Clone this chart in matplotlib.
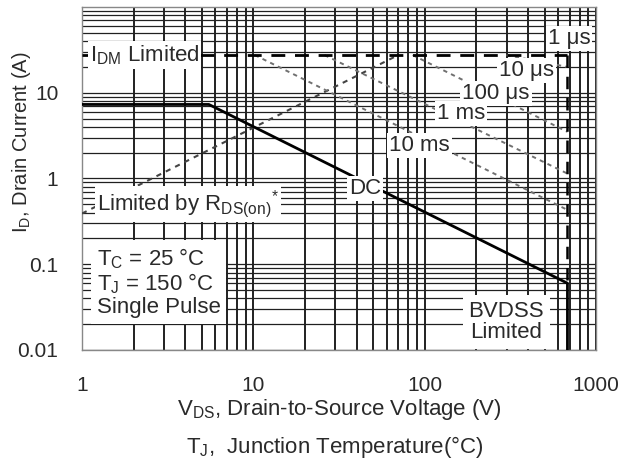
import matplotlib
matplotlib.use('Agg')
import matplotlib.pyplot as plt
from matplotlib.ticker import FixedLocator, LogLocator, NullFormatter

plt.rcParams['font.family'] = ['Liberation Sans', 'DejaVu Sans']
plt.rcParams['mathtext.fontset'] = 'custom'
plt.rcParams['mathtext.rm'] = 'Liberation Sans'
plt.rcParams['mathtext.it'] = 'Liberation Sans:italic'

# SOA boundaries (V, A)
v_dc = [1, 5.5, 680, 680]
i_dc = [7.3, 7.3, 0.06, 0.01]
v_idm = [1, 680]
i_idm = [27.5, 27.5]
v_bv = [680, 680]
i_bv = [27.5, 0.06]
v_rds = [1, 70]
i_rds = [0.39, 27.5]
# single pulse lines
v_10us = [300, 680]
i_10us = [27.5, 20]
v_100us = [85, 680]
i_100us = [27.5, 3.5]
v_1ms = [26, 680]
i_1ms = [27.5, 1.14]
v_10ms = [10.2, 680]
i_10ms = [27.5, 0.43]

x_ticks = [1, 10, 100, 1000]
x_labels = ['1', '10', '100', '1000']
y_ticks = [0.01, 0.1, 1, 10]
y_labels = ['0.01', '0.1', '1', '10']

txt = '#2a2a2a'
box = dict(facecolor='white', edgecolor='none', pad=1.5)

fig = plt.figure(figsize=(6.21, 4.66), dpi=100)
ax = fig.add_axes([0.132, 0.249, 0.828, 0.736])
ax.set_xscale('log')
ax.set_yscale('log')
ax.set_xlim(1, 1000)
ax.set_ylim(0.01, 100)

ax.xaxis.set_major_locator(FixedLocator(x_ticks))
ax.yaxis.set_major_locator(FixedLocator(y_ticks))
ax.set_xticklabels(x_labels)
ax.set_yticklabels(y_labels)
ax.xaxis.set_minor_locator(LogLocator(base=10, subs=range(2, 10)))
ax.yaxis.set_minor_locator(LogLocator(base=10, subs=range(2, 10)))
ax.xaxis.set_minor_formatter(NullFormatter())
ax.yaxis.set_minor_formatter(NullFormatter())
ax.tick_params(which='both', length=0)
ax.tick_params(axis='x', pad=19, labelsize=15, labelcolor=txt)
ax.tick_params(axis='y', pad=17, labelsize=15, labelcolor=txt)

ax.xaxis.grid(True, which='both', color='#202020', linewidth=1.4)
ax.yaxis.grid(True, which='both', color='#202020', linewidth=0.9)
ax.set_axisbelow(True)
for s in ax.spines.values():
    s.set_color('#888888')
    s.set_linewidth(1.0)

ax.plot(v_dc, i_dc, color='black', linewidth=2.0, zorder=4)
ax.plot(v_idm, i_idm, color='black', linewidth=2.0, dashes=(5, 3.5), zorder=4)
ax.plot(v_bv, i_bv, color='black', linewidth=1.8, dashes=(5, 3.5), zorder=4)
ax.plot(v_rds, i_rds, color='#444444', linewidth=1.5, dashes=(2.5, 2.5), zorder=3)
for v, i in [(v_10us, i_10us), (v_100us, i_100us), (v_1ms, i_1ms), (v_10ms, i_10ms)]:
    ax.plot(v, i, color='#707070', linewidth=1.4, dashes=(2.2, 2.2), zorder=3)

fs = 16
ax.text(1.11, 27.5, r'I$_\mathrm{DM}$ Limited', fontsize=fs, color=txt, va='center', ha='left', bbox=box, zorder=6)
ax.text(695, 43, '1 μs', fontsize=fs, color=txt, va='center', ha='center', bbox=box, zorder=6)
ax.text(391, 18.3, '10 μs', fontsize=fs, color=txt, va='center', ha='center', bbox=box, zorder=6)
ax.text(261, 9.9, '100 μs', fontsize=fs, color=txt, va='center', ha='center', bbox=box, zorder=6)
ax.text(163, 5.75, '1 ms', fontsize=fs, color=txt, va='center', ha='center', bbox=box, zorder=6)
ax.text(93, 2.43, '10 ms', fontsize=fs, color=txt, va='center', ha='center', bbox=box, zorder=6)
ax.text(45, 0.76, 'DC', fontsize=fs, color=txt, va='center', ha='center', bbox=box, zorder=6)
ax.text(1.22, 0.51, r'Limited by R$_{\mathrm{DS(on)}}{}^{*}$', fontsize=fs, color=txt,
        va='center', ha='left', bbox=box, zorder=6)
ax.text(1.22, 0.062, 'T$_\\mathrm{C}$ = 25 °C\nT$_\\mathrm{J}$ = 150 °C\nSingle Pulse', fontsize=fs,
        color=txt, va='center', ha='left', linespacing=1.05, bbox=dict(facecolor='white', edgecolor='none', pad=4), zorder=6)
ax.text(299, 0.0212, 'BVDSS\nLimited', fontsize=fs, color=txt, va='center', ha='center',
        linespacing=1.0, bbox=dict(facecolor='white', edgecolor='none', pad=4), zorder=6)

fig.text(22 / 621, 1 - 142 / 466, r'I$_\mathrm{D}$, Drain Current (A)', rotation=90, fontsize=14.5,
         color=txt, ha='center', va='center')
fig.text(339 / 621, 1 - 410 / 466, r'V$_\mathrm{DS}$, Drain-to-Source Voltage (V)', fontsize=16,
         color=txt, ha='center', va='center')
fig.text(335 / 621, 1 - 447 / 466, r'T$_\mathrm{J}$,  Junction Temperature(°C)', fontsize=16,
         color=txt, ha='center', va='center')

fig.savefig('out.png', dpi=100)
